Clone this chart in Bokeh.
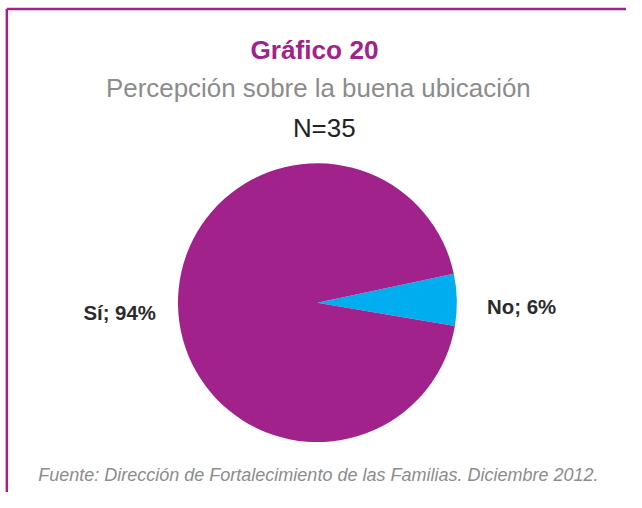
import math
from bokeh.plotting import figure
from bokeh.models import Range1d, ColumnDataSource
from bokeh.core.properties import value
from bokeh.embed import file_html
from bokeh.resources import INLINE

# ---- data ----
categories = ["No", "Sí"]
percentages = [6, 94]
slice_colors = ["#00AEEF", "#A2228B"]
title_text = "Gráfico 20"
subtitle_text = "Percepción sobre la buena ubicación"
n_text = "N=35"
source_text = "Fuente: Dirección de Fortalecimiento de las Familias. Diciembre 2012."

W, H = 626, 492          # figure size in pixels
RW, RH = 642, 508        # reference layout size
FONT = "Liberation Sans"
k = (W / RW + H / RH) / 2  # font scale

def fs(px):
    return value(f"{px * k:.1f}px")

# data coordinates == reference pixels (x), y = -ref_y
p = figure(width=W, height=H, output_backend="svg", toolbar_location=None,
           x_range=Range1d(0, RW), y_range=Range1d(-RH, 0),
           min_border=0, outline_line_color=None)
p.axis.visible = False
p.grid.visible = False
p.background_fill_color = "white"
p.border_fill_color = "white"

def Y(py):
    return -py

# frame (top + left)
p.line(x=[6.5, RW], y=[Y(8.8), Y(8.8)], line_color="#A2228B", line_width=2.5)
p.line(x=[6.5, 6.5], y=[Y(8.8), Y(RH)], line_color="#A2228B", line_width=2.5)

# pie
cx, cy, r = 325, 312, 143
total = sum(percentages)
start = math.radians(-9.6)
starts, ends = [], []
a = start
for v in percentages:
    starts.append(a)
    a += 2 * math.pi * v / total
    ends.append(a)
src = ColumnDataSource(dict(cat=categories, pct=percentages, start=starts, end=ends, color=slice_colors))
p.wedge(x=cx, y=Y(cy), radius=r, start_angle="start", end_angle="end",
        fill_color="color", line_color=None, source=src)

# slice labels
labels = [f"{c}; {v}%" for c, v in zip(categories, percentages)]
p.text(x=[499, 85], y=[Y(316), Y(323)], text=labels, text_font=value(FONT),
       text_font_size=fs(21), text_font_style="bold", text_color="#2b2b2b",
       text_align="left", text_baseline="alphabetic")

# titles
p.text(x=[322], y=[Y(51)], text=[title_text], text_font=value(FONT),
       text_font_size=fs(27), text_font_style="bold", text_color="#A2228B",
       text_align="center", text_baseline="alphabetic")
p.text(x=[326], y=[Y(90)], text=[subtitle_text], text_font=value(FONT),
       text_font_size=fs(26.7), text_color="#8C8C8C",
       text_align="center", text_baseline="alphabetic")
p.text(x=[332], y=[Y(132)], text=[n_text], text_font=value(FONT),
       text_font_size=fs(26.7), text_color="#222222",
       text_align="center", text_baseline="alphabetic")
p.text(x=[326], y=[Y(490)], text=[source_text], text_font=value(FONT),
       text_font_size=fs(18.5), text_font_style="italic", text_color="#8C8C8C",
       text_align="center", text_baseline="alphabetic")

open("out.html", "w").write(file_html(p, INLINE))
